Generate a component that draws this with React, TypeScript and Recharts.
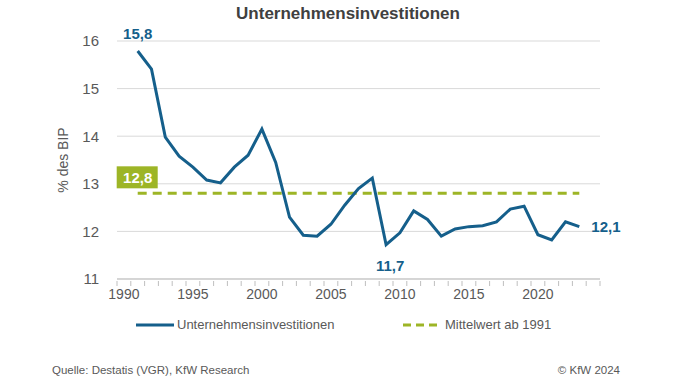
import React from 'react';
import { LineChart, Line, XAxis, YAxis, CartesianGrid, LabelList, ReferenceDot } from 'recharts';

const years = [1991, 1992, 1993, 1994, 1995, 1996, 1997, 1998, 1999, 2000, 2001, 2002, 2003, 2004, 2005, 2006, 2007,
  2008, 2009, 2010, 2011, 2012, 2013, 2014, 2015, 2016, 2017, 2018, 2019, 2020, 2021, 2022, 2023];
const investitionen = [15.79, 15.41, 13.98, 13.58, 13.35, 13.08, 13.02, 13.35, 13.6, 14.15, 13.45, 12.3, 11.92, 11.9,
  12.15, 12.55, 12.9, 13.12, 11.72, 11.97, 12.43, 12.25, 11.9, 12.05, 12.1, 12.12, 12.2, 12.47, 12.53, 11.93, 11.82,
  12.2, 12.1];
const mittelwert = 12.8;
const xTicks = [1990, 1995, 2000, 2005, 2010, 2015, 2020];
const yTicks = [11, 12, 13, 14, 15, 16];
const labelYears = [1991, 2009, 2023];

const data = years.map((y, i) => ({ year: y, wert: investitionen[i], mittel: mittelwert }));
// Excel-style: small tick marks between the years, labels in the middle of a year
const minorTicks = Array.from({ length: 36 }, (_, i) => 1989.5 + i);
const allTicks = [...minorTicks, ...xTicks].sort((a, b) => a - b);

const BLUE = '#155f8b';
const OLIVE = '#9db526';
const GREY = '#595959';

const fmt = (v: number) => v.toFixed(1).replace('.', ',');

const XTick = (props: any) => {
  const { x, y, payload } = props;
  if (payload.value % 1 !== 0) {
    return <line x1={x} x2={x} y1={y - 6} y2={y - 1} stroke="#bfbfbf" />;
  }
  return (
    <text x={x} y={y + 12} textAnchor="middle" fill={GREY} fontSize={14}>{payload.value}</text>
  );
};

const PointLabel = (props: any) => {
  const { x, y, value, index } = props;
  const yr = years[index];
  if (!labelYears.includes(yr)) return null;
  let dx = 0, dy = -12, anchor: any = 'middle';
  if (yr === 2009) { dx = 4; dy = 26; }
  if (yr === 2023) { dx = 12; dy = 5; anchor = 'start'; }
  return (
    <text x={x + dx} y={y + dy} textAnchor={anchor} fill={BLUE} fontSize={15} fontWeight="bold">
      {fmt(value)}
    </text>
  );
};

const MeanBox = (props: any) => {
  const { cx, cy } = props;
  return (
    <g>
      <rect x={cx - 21} y={cy - 27} width={41} height={22} fill={OLIVE} />
      <text x={cx} y={cy - 10} textAnchor="middle" fill="#fff" fontSize={15} fontWeight="bold">{fmt(mittelwert)}</text>
    </g>
  );
};

const AxisTitle = () => (
  <text x={68} y={160} transform="rotate(-90 68 160)" textAnchor="middle" fill={GREY} fontSize={14}>% des BIP</text>
);

export default function App() {
  const font = '"Liberation Sans", Arial, sans-serif';
  return (
    <div style={{ position: 'relative', width: 696, height: 392, background: '#fff', fontFamily: font }}>
      <style>{'body{margin:0}'}</style>
      <div style={{ position: 'absolute', top: 4, left: 0, width: 696, textAlign: 'center', fontSize: 17, fontWeight: 'bold', color: '#404040' }}>
        Unternehmensinvestitionen
      </div>
      <div style={{ position: 'absolute', left: 0, top: 0 }}>
        <LineChart width={696} height={310} data={data} margin={{ top: 41, right: 96, bottom: 0, left: 0 }}
          style={{ fontFamily: font }}>
          <CartesianGrid vertical={false} stroke="#d9d9d9" />
          <XAxis dataKey="year" type="number" domain={[1989.5, 2024.5]} ticks={allTicks} tickLine={false}
            axisLine={{ stroke: '#bfbfbf' }} tick={<XTick />} height={31} interval={0} />
          <YAxis domain={[11, 16]} ticks={yTicks} width={117} axisLine={false} tickLine={false}
            tick={{ fill: GREY, fontSize: 15 }} tickMargin={12} label={<AxisTitle />} />
          <Line dataKey="mittel" stroke={OLIVE} strokeWidth={3} strokeDasharray="9 6" dot={false} isAnimationActive={false} />
          <Line dataKey="wert" stroke={BLUE} strokeWidth={3} dot={false} isAnimationActive={false}>
            <LabelList dataKey="wert" content={PointLabel} />
          </Line>
          <ReferenceDot x={1991} y={mittelwert} r={0} shape={MeanBox} />
        </LineChart>
      </div>
      <div style={{ position: 'absolute', top: 317, left: 136, display: 'flex', alignItems: 'center', fontSize: 13, color: GREY }}>
        <svg width={38} height={10}><line x1={0} y1={5} x2={38} y2={5} stroke={BLUE} strokeWidth={3} /></svg>
        <span style={{ marginLeft: 3 }}>Unternehmensinvestitionen</span>
      </div>
      <div style={{ position: 'absolute', top: 317, left: 403, display: 'flex', alignItems: 'center', fontSize: 13, color: GREY }}>
        <svg width={36} height={10}><line x1={0} y1={5} x2={36} y2={5} stroke={OLIVE} strokeWidth={3} strokeDasharray="8 5" /></svg>
        <span style={{ marginLeft: 6 }}>Mittelwert ab 1991</span>
      </div>
      <div style={{ position: 'absolute', top: 364, left: 52, fontSize: 11.5, color: GREY }}>Quelle: Destatis (VGR), KfW Research</div>
      <div style={{ position: 'absolute', top: 364, right: 76, fontSize: 11.5, color: GREY }}>© KfW 2024</div>
    </div>
  );
}
